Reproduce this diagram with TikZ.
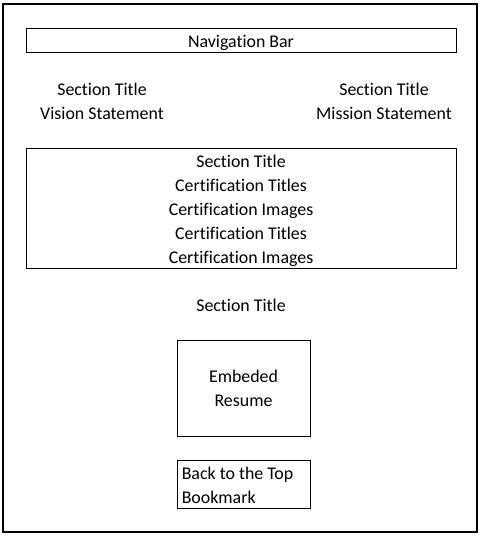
\documentclass[tikz,border=0pt]{standalone}
\usepackage{fontspec}
\setmainfont[Ligatures=CommonOff]{Carlito}
\begin{document}
\begin{tikzpicture}[x=0.75pt,y=-0.75pt,
  frame/.style={draw=black,line width=0.8pt},
  txt/.style={font=\fontsize{13.4pt}{18pt}\selectfont,align=center,inner sep=0pt,text depth=0pt}]
\useasboundingbox (0,0) rectangle (482,538);
\fill[white] (0,0) rectangle (482,538);
\draw[frame] (3,4) rectangle (477,532);
\node[frame,minimum width=430*0.75pt,minimum height=24*0.75pt,inner sep=0pt,anchor=north west] (nav) at (26,28) {};
\node[txt] (navt) at (241,41) {Navigation Bar};
\node[txt] (vision) at (102,101.5) {Section Title\\Vision Statement};
\node[txt] (mission) at (384,101.5) {Section Title\\Mission Statement};
\node[frame,minimum width=430*0.75pt,minimum height=120*0.75pt,inner sep=0pt,anchor=north west] (cert) at (26,148) {};
\node[txt] (certt) at (241,209) {Section Title\\Certification Titles\\Certification Images\\Certification Titles\\Certification Images};
\node[txt] (sec) at (241,305) {Section Title};
\node[frame,minimum width=133*0.75pt,minimum height=96*0.75pt,inner sep=0pt,anchor=north west] (embed) at (177,340) {};
\node[txt] (embedt) at (243.5,388) {Embeded\\Resume};
\node[frame,minimum width=133*0.75pt,minimum height=48*0.75pt,inner sep=0pt,anchor=north west] (back) at (177,460) {};
\node[txt,align=left,anchor=west] (backt) at (181.5,485) {Back to the Top\\Bookmark};
\end{tikzpicture}
\end{document}
